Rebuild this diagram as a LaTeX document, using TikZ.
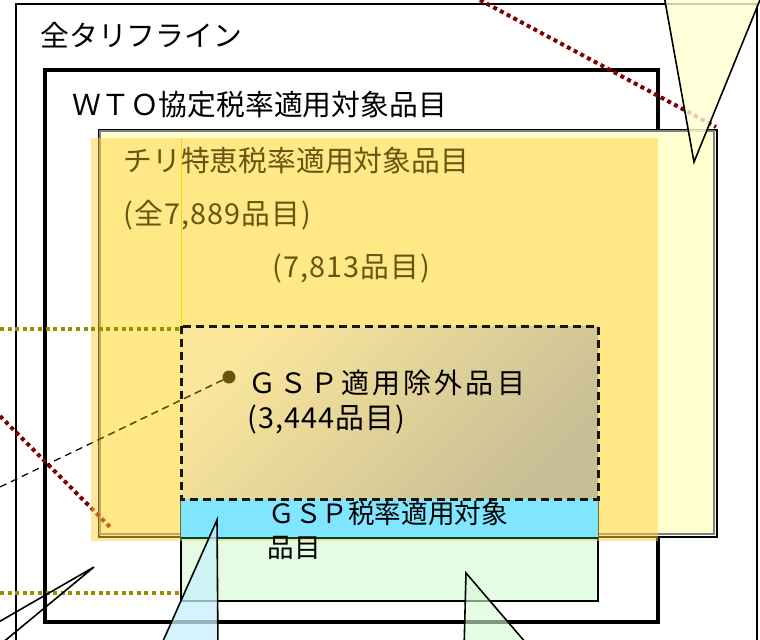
\documentclass[tikz,border=0pt]{standalone}
\usepackage{fontspec}
\setmainfont{Noto Sans CJK JP}
\definecolor{chileorange}{RGB}{255,210,60}
\definecolor{chiletext}{RGB}{105,85,15}
\definecolor{paleyellow}{RGB}{255,255,208}
\definecolor{gspblue}{RGB}{128,229,255}
\definecolor{gspgreen}{RGB}{227,252,227}
\definecolor{dotred}{RGB}{128,0,0}
\definecolor{dotolive}{RGB}{150,145,0}
\definecolor{tanlight}{RGB}{250,230,155}
\definecolor{tandark}{RGB}{200,190,150}
\definecolor{calloutblue}{RGB}{200,240,252}
\definecolor{calloutgreen}{RGB}{212,250,212}
\usetikzlibrary{positioning}
\tikzset{
	frame/.style={
		draw=black,
		line width=0.8pt
	},
	wtoframe/.style={
		draw=black,
		line width=2pt
	},
	dotline/.style={
		line width=2pt,
		dash pattern=on 2pt off 1.8pt
	},
	dashline/.style={
		line width=0.6pt,
		dash pattern=on 3.5pt off 2.5pt
	},
	callout/.style={
		draw=black,
		line width=0.8pt,
		line join=miter
	},
	caption/.style={
		anchor=base west,
		inner sep=0pt,
		font=\fontsize{14.4}{17}\selectfont
	},
	count/.style={
		caption,
		font=\fontsize{14.4}{17}\selectfont\addfontfeature{LetterSpace=4}
	},
}

\begin{document}
\begin{tikzpicture}[x=0.5pt,y=-0.5pt]
	\useasboundingbox (0,0) rectangle (760,639);
	\clip (0,0) rectangle (760,639);
	% frames
	\draw[frame,fill=white] (16,4) rectangle (757,680);
	\draw[wtoframe] (45,70) rectangle (658,622);
	\draw[line width=1.2pt,fill=white] (99,130) rectangle (717,537);
	\draw[draw=gray,line width=0.6pt,fill=paleyellow] (100,131) rectangle (714,534);
	\draw[line width=0.6pt,fill=gspgreen] (181,499) rectangle (598,601);
	% dotted lines under the orange layer
	\coordinate (redtop) at (480,0);
	\coordinate (redtopend) at (716,127);
	\coordinate (redleft) at (0,416);
	\coordinate (redleftend) at (110,527);
	\draw[dotline,dotred] (redtop) -- (redtopend);
	\draw[dotline,dotred] (redleft) -- (redleftend);
	% chile layer
	\fill[chileorange,opacity=0.5] (91,138) rectangle (658,541);
	\draw[yellow!70!orange,line width=0.5pt] (181,138) -- (181,326);
	% gsp boxes
	\shade[top color=tanlight,bottom color=tandark,shading angle=45] (181,326) rectangle (598,499);
	\fill[gspblue] (181,499) rectangle (598,538);
	\draw[line width=0.8pt,draw=teal!50!black] (181,538) -- (598,538);
	\draw[line width=1.5pt,dash pattern=on 4pt off 2.5pt,draw=black!75!chiletext] (181,326) rectangle (598,499);
	\coordinate (olivetop) at (0,329);
	\coordinate (olivetopend) at (181,329);
	\coordinate (olivebottom) at (0,593);
	\coordinate (olivebottomend) at (181,593);
	\draw[dotline,dotolive] (olivetop) -- (olivetopend);
	\draw[dotline,dotolive] (olivebottom) -- (olivebottomend);
	% texts
	\node[caption] (alltariff) at (40,46) {全タリフライン};
	\node[caption] (wto) at (72,115) {ＷＴＯ協定税率適用対象品目};
	\node[caption,text=chiletext] (chile) at (123,171) {チリ特恵税率適用対象品目};
	\node[count,text=chiletext] (chileall) at (123,224) {(全7,889品目)};
	\node[count,text=chiletext] (chilecount) at (272,277) {(7,813品目)};
	\node[caption,font=\fontsize{14}{17}\selectfont\addfontfeature{LetterSpace=11}] (gspex) at (248,393) {ＧＳＰ適用除外品目};
	\node[count] (gspexcount) at (247,428) {(3,444品目)};
	\node[caption,font=\fontsize{13.3}{17}\selectfont] (gsp) at (268,523) {ＧＳＰ税率適用対象};
	\node[caption,font=\fontsize{13.3}{17}\selectfont] (gspline) at (267,557) {品目};
	% dot with its dashed leader
	\node[circle,fill=chiletext,inner sep=0pt,minimum size=6.5pt] (gspdot) at (229,377) {};
	\coordinate (dashend) at (0,487);
	\draw[dashline] (gspdot) -- (dashend);
	\begin{scope}
		\clip (91,138) rectangle (658,541);
		\draw[dashline,chiletext] (gspdot) -- (dashend);
	\end{scope}
	% callouts
	\coordinate (yellowtip) at (694,162);
	\filldraw[callout,fill=paleyellow,fill opacity=0.8] (663,-10) -- (yellowtip) -- (764,-10);
	\coordinate (lefttip) at (94,567);
	\coordinate (lefta) at (-10,627);
	\coordinate (leftb) at (-10,653);
	\draw[callout] (lefta) -- (lefttip) -- (leftb);
	\coordinate (bluetip) at (217,520);
	\filldraw[callout,fill=calloutblue,fill opacity=0.75] (159,650) -- (bluetip) -- (218,650);
	\coordinate (greentip) at (466,573);
	\filldraw[callout,fill=calloutgreen,fill opacity=0.6] (464,650) -- (greentip) -- (532,650);
\end{tikzpicture}
\end{document}
